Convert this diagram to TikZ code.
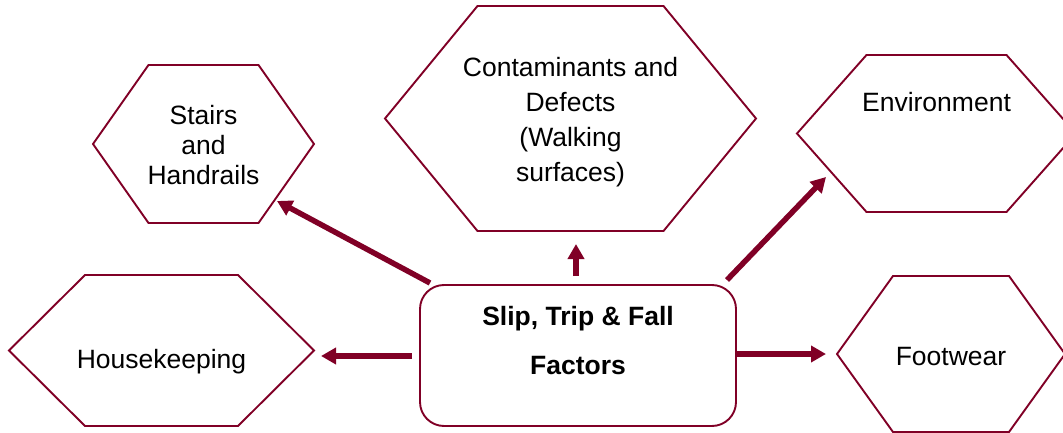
\documentclass[tikz,border=0pt]{standalone}
\usepackage{fontspec}
\setmainfont{Liberation Sans}
\usetikzlibrary{arrows.meta}
\definecolor{maroon}{RGB}{128,0,38}
\newcommand\hexpath[2]{%
  \draw[hexline] (#1.west) -- ([xshift=#2pt]#1.north west) -- ([xshift=-#2pt]#1.north east)
    -- (#1.east) -- ([xshift=-#2pt]#1.south east) -- ([xshift=#2pt]#1.south west) -- cycle;}
\begin{document}
\begin{tikzpicture}[x=1pt,y=-1pt,
  hexline/.style={draw=maroon, line width=1.9pt, line join=miter},
  hexbox/.style={inner sep=0pt, outer sep=0pt, draw=none},
  lbl/.style={font=\fontsize{26.5}{30.5}\selectfont, align=center, inner sep=0pt, anchor=base, text=black},
  arr/.style={draw=maroon, line width=5.5pt, -{Triangle[length=15pt,width=16pt]}},
  centerbox/.style={draw=maroon, line width=1.9pt, rounded corners=24pt, inner sep=0pt},
]
\useasboundingbox (0,0) rectangle (1063,433);
\clip (0,0) rectangle (1063,433);

% hexagons
\node[hexbox, minimum width=221pt, minimum height=158pt] (stairs) at (203.5,144) {};
\node[hexbox, minimum width=371pt, minimum height=225pt] (cont) at (570.5,118.5) {};
\node[hexbox, minimum width=279pt, minimum height=157pt] (env) at (936.5,133.5) {};
\node[hexbox, minimum width=305pt, minimum height=151pt] (house) at (161.5,350.5) {};
\node[hexbox, minimum width=228pt, minimum height=156pt] (foot) at (951,354) {};
\hexpath{stairs}{55.5}
\hexpath{cont}{92.5}
\hexpath{env}{69.5}
\hexpath{house}{76}
\hexpath{foot}{56}

% center box
\node[centerbox, minimum width=316pt, minimum height=141pt] (c) at (578,355.5) {};

% labels (anchor = baseline of last line)
\node[lbl] (stairs-t) at (203.5,185) {Stairs\\and\\Handrails};
\node[lbl, font=\fontsize{26.5}{35.2}\selectfont] (cont-t) at (570.5,181.7) {Contaminants and\\Defects\\(Walking\\surfaces)};
\node[lbl] (env-t) at (936.5,111.7) {Environment};
\node[lbl] (house-t) at (161.5,368.3) {Housekeeping};
\node[lbl] (foot-t) at (951,365.7) {Footwear};
\node[lbl, font=\fontsize{26.5}{49}\selectfont\bfseries] (c-t) at (578,374) {Slip, Trip \& Fall\\Factors};

% arrows
\coordinate (a1s) at (430,283); \coordinate (a1e) at (277,201);
\coordinate (a2s) at (576,276); \coordinate (a2e) at (576,244);
\coordinate (a3s) at (727,280); \coordinate (a3e) at (826,177);
\coordinate (a4s) at (412,356); \coordinate (a4e) at (321,356);
\coordinate (a5s) at (736,354); \coordinate (a5e) at (826,354);
\draw[arr] (a1s) -- (a1e);
\draw[arr] (a2s) -- (a2e);
\draw[arr] (a3s) -- (a3e);
\draw[arr] (a4s) -- (a4e);
\draw[arr] (a5s) -- (a5e);
\end{tikzpicture}
\end{document}
